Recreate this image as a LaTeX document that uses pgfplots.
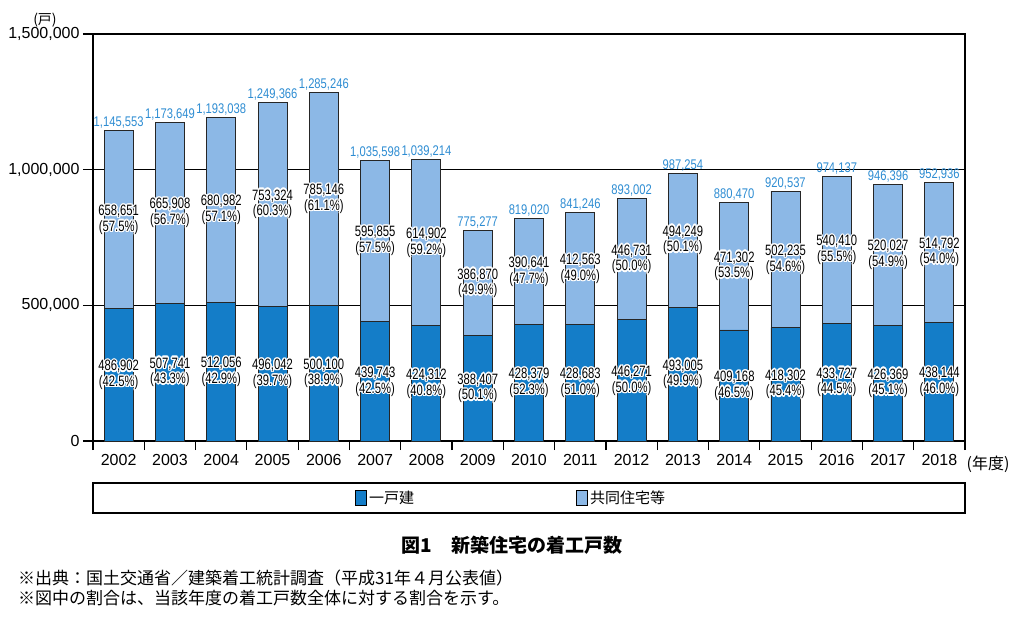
\documentclass[border=0pt]{standalone}
\usepackage{fontspec}
\setmainfont{Liberation Sans}
\newfontfamily\jp{Noto Sans CJK JP}
\newfontfamily\narrow[FakeStretch=0.8]{Liberation Sans}
\newfontfamily\narrowb[FakeStretch=0.75]{Liberation Sans}
\usepackage{pgfplots}
\pgfplotsset{compat=1.18}
\usepackage{pgfplotstable}
\usepackage{contour}
\contourlength{1.3pt}
\definecolor{kodate}{RGB}{20,125,200}
\definecolor{kyodo}{RGB}{140,184,230}
\definecolor{totblue}{RGB}{45,140,210}

% x det multi total, labels as text, shares
\pgfplotstableread{
x det multi total dl ml tl dp mp
0 486902 658651 1145553 486,902 658,651 1,145,553 42.5 57.5
1 507741 665908 1173649 507,741 665,908 1,173,649 43.3 56.7
2 512056 680982 1193038 512,056 680,982 1,193,038 42.9 57.1
3 496042 753324 1249366 496,042 753,324 1,249,366 39.7 60.3
4 500100 785146 1285246 500,100 785,146 1,285,246 38.9 61.1
5 439743 595855 1035598 439,743 595,855 1,035,598 42.5 57.5
6 424312 614902 1039214 424,312 614,902 1,039,214 40.8 59.2
7 388407 386870 775277 388,407 386,870 775,277 50.1 49.9
8 428379 390641 819020 428,379 390,641 819,020 52.3 47.7
9 428683 412563 841246 428,683 412,563 841,246 51.0 49.0
10 446271 446731 893002 446,271 446,731 893,002 50.0 50.0
11 493005 494249 987254 493,005 494,249 987,254 49.9 50.1
12 409168 471302 880470 409,168 471,302 880,470 46.5 53.5
13 418302 502235 920537 418,302 502,235 920,537 45.4 54.6
14 433727 540410 974137 433,727 540,410 974,137 44.5 55.5
15 426369 520027 946396 426,369 520,027 946,396 45.1 54.9
16 438144 514792 952936 438,144 514,792 952,936 46.0 54.0
}\data

\pgfplotsset{
  inlab/.style={draw=none, mark=none, forget plot, point meta=explicit symbolic,
    every node near coord/.style={anchor=#1, text=black, inner sep=0pt, outer sep=0.8bp,
      font=\narrowb\fontsize{15bp}{16bp}\selectfont}},
}

\begin{document}
\begin{tikzpicture}
\useasboundingbox (-93bp,-193bp) rectangle (931bp,441bp);
\begin{axis}[
  at={(0,0)}, anchor=south west,
  scale only axis, width=872bp, height=407bp,
  xmin=-0.5, xmax=16.5, ymin=0, ymax=1500000,
  xtick={0,...,16},
  xticklabels={2002,2003,2004,2005,2006,2007,2008,2009,2010,2011,2012,2013,2014,2015,2016,2017,2018},
  minor xtick={-0.5,0.5,...,16.5},
  ytick={0,500000,1000000,1500000},
  scaled y ticks=false,
  yticklabel style={/pgf/number format/.cd, fixed, precision=0, 1000 sep={,}},
  /pgf/number format/assume math mode=true,
  tick align=outside, major tick length=10bp, minor tick length=9bp,
  major x tick style={draw=none},
  xtick pos=lower, ytick pos=left,
  ymajorgrids, grid style={black, line width=1.2bp},
  axis line style={line width=1.5bp},
  tick style={black, line width=1.2bp},
  ticklabel style={font=\fontsize{16bp}{18bp}\selectfont},
  legend columns=2,
  legend style={at={(0.3005,-0.140)}, anchor=west, draw=none, fill=none,
    inner sep=0pt, font=\jp\fontsize{15bp}{17bp}\selectfont,
    /tikz/every even column/.append style={column sep=160bp},
    nodes={inner sep=2bp}},
  legend cell align=left,
]
\addlegendimage{legend image code/.code={\draw[fill=kodate,draw=black,line width=0.9bp] (0bp,-7.5bp) rectangle (11bp,7.5bp);}}
\addlegendentry{一戸建}
\addlegendimage{legend image code/.code={\draw[fill=kyodo,draw=black,line width=0.9bp] (0bp,-7.5bp) rectangle (11bp,7.5bp);}}
\addlegendentry{共同住宅等}

\addplot[ybar, forget plot, bar width=29bp, bar shift=0pt, fill=kyodo, draw=black!85, line width=0.9bp]
  table[x=x, y=total]{\data};
\addplot[ybar, forget plot, bar width=29bp, bar shift=0pt, fill=kodate, draw=black!85, line width=0.9bp]
  table[x=x, y=det]{\data};

% totals above bars
\addplot[draw=none, mark=none, forget plot, point meta=explicit symbolic,
  nodes near coords,
  every node near coord/.style={anchor=south, text=totblue, inner sep=2bp,
    font=\narrow\fontsize{14bp}{16bp}\selectfont}]
  table[x=x, y=total, meta=tl]{\data};
% detached labels
\addplot[inlab=south, nodes near coords={\contour{white}{\pgfplotspointmeta}}]
  table[x=x, y expr=\thisrow{det}/2, meta=dl]{\data};
\addplot[inlab=north, nodes near coords={\contour{white}{(\pgfplotspointmeta\%)}}]
  table[x=x, y expr=\thisrow{det}/2, meta=dp]{\data};
% multi-family labels
\addplot[inlab=south, nodes near coords={\contour{white}{\pgfplotspointmeta}}]
  table[x=x, y expr=\thisrow{det}+\thisrow{multi}/2, meta=ml]{\data};
\addplot[inlab=north, nodes near coords={\contour{white}{(\pgfplotspointmeta\%)}}]
  table[x=x, y expr=\thisrow{det}+\thisrow{multi}/2, meta=mp]{\data};
\end{axis}

\draw[line width=1.2bp] (0bp,-42bp) rectangle (872bp,-72bp);
\node[font=\jp\fontsize{14bp}{16bp}\selectfont] at (-48bp,421bp) {(戸)};
\node[font=\jp\fontsize{16bp}{18bp}\selectfont] at (895bp,-23bp) {(年度)};
\node[font=\jp\bfseries\fontsize{19bp}{21bp}\selectfont] at (419bp,-104bp) {図1　新築住宅の着工戸数};
\node[anchor=west, inner sep=0pt, font=\jp\fontsize{17bp}{20bp}\selectfont] at (-75bp,-137bp) {※出典：国土交通省／建築着工統計調査（平成31年４月公表値）};
\node[anchor=west, inner sep=0pt, font=\jp\fontsize{17bp}{20bp}\selectfont] at (-75bp,-157bp) {※図中の割合は、当該年度の着工戸数全体に対する割合を示す。};
\end{tikzpicture}
\end{document}
